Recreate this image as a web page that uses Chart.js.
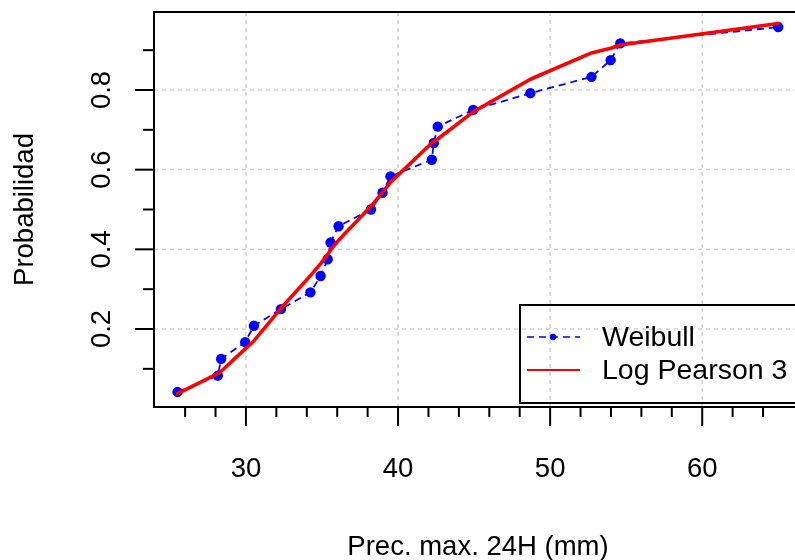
<!DOCTYPE html>
<html><head><meta charset="utf-8">
<script src="https://cdn.jsdelivr.net/npm/chart.js@4.4.0/dist/chart.umd.min.js"></script>
<style>html,body{margin:0;padding:0;background:#fff;overflow:hidden}canvas{display:block}</style>
</head><body>
<canvas id="c" width="795" height="560"></canvas>
<script>
// ---- data ----
const precip = [25.50, 28.15, 28.37, 29.95, 30.52, 32.30, 34.24, 34.91, 35.37, 35.56, 36.09, 38.22, 38.98, 39.50, 42.22, 42.35, 42.61, 44.94, 48.70, 52.72, 53.98, 54.61, 65.00];
const weibullProb = [0.042, 0.083, 0.125, 0.167, 0.208, 0.250, 0.292, 0.333, 0.375, 0.417, 0.458, 0.500, 0.542, 0.583, 0.625, 0.667, 0.708, 0.750, 0.792, 0.833, 0.875, 0.917, 0.958];
const lp3Prob = [0.038, 0.088, 0.094, 0.150, 0.170, 0.252, 0.334, 0.364, 0.387, 0.398, 0.423, 0.508, 0.543, 0.568, 0.667, 0.671, 0.677, 0.745, 0.827, 0.893, 0.905, 0.913, 0.967];
const xMajorTicks = [30, 40, 50, 60];
const xMajorLabels = ['30', '40', '50', '60'];
const xMinorTicks = [26, 28, 32, 34, 36, 38, 42, 44, 46, 48, 52, 54, 56, 58, 62, 64];
const yMajorTicks = [0.2, 0.4, 0.6, 0.8];
const yMajorLabels = ['0.2', '0.4', '0.6', '0.8'];
const yMinorTicks = [0.1, 0.3, 0.5, 0.7, 0.9];
const xTitle = 'Prec. max. 24H (mm)';
const yTitle = 'Probabilidad';
const seriesNames = ['Weibull', 'Log Pearson 3'];

const FONT = '27.5px "Liberation Sans", Arial, sans-serif';
const LEGEND_FONT = '28.5px "Liberation Sans", Arial, sans-serif';

const rStyle = {
  id: 'rStyle',
  beforeDatasetsDraw(chart) {
    const {ctx, chartArea: a, scales: {x, y}} = chart;
    const right = a.right + 13;
    ctx.save();
    ctx.strokeStyle = '#d0d0d0';
    ctx.lineWidth = 1.5;
    ctx.setLineDash([4, 4]);
    xMajorTicks.forEach(v => {
      const p = x.getPixelForValue(v);
      ctx.beginPath(); ctx.moveTo(p, a.top); ctx.lineTo(p, a.bottom); ctx.stroke();
    });
    yMajorTicks.forEach(v => {
      const p = y.getPixelForValue(v);
      ctx.beginPath(); ctx.moveTo(a.left, p); ctx.lineTo(right, p); ctx.stroke();
    });
    ctx.restore();
  },
  afterDraw(chart) {
    const {ctx, chartArea: a, scales: {x, y}} = chart;
    const right = a.right + 13;
    ctx.save();
    ctx.strokeStyle = '#000';
    ctx.lineWidth = 2;
    ctx.setLineDash([]);
    // frame
    ctx.strokeRect(a.left, a.top, right - a.left, a.bottom - a.top);
    // x ticks
    xMajorTicks.forEach(v => {
      const p = x.getPixelForValue(v);
      ctx.beginPath(); ctx.moveTo(p, a.bottom); ctx.lineTo(p, a.bottom + 19); ctx.stroke();
    });
    xMinorTicks.forEach(v => {
      const p = x.getPixelForValue(v);
      ctx.beginPath(); ctx.moveTo(p, a.bottom); ctx.lineTo(p, a.bottom + 10); ctx.stroke();
    });
    // y ticks
    yMajorTicks.forEach(v => {
      const p = y.getPixelForValue(v);
      ctx.beginPath(); ctx.moveTo(a.left, p); ctx.lineTo(a.left - 19, p); ctx.stroke();
    });
    yMinorTicks.forEach(v => {
      const p = y.getPixelForValue(v);
      ctx.beginPath(); ctx.moveTo(a.left, p); ctx.lineTo(a.left - 11, p); ctx.stroke();
    });
    // labels
    ctx.fillStyle = '#000';
    ctx.font = FONT;
    ctx.textAlign = 'center';
    ctx.textBaseline = 'alphabetic';
    xMajorTicks.forEach((v, i) => {
      ctx.fillText(xMajorLabels[i], x.getPixelForValue(v), 477);
    });
    ctx.fillText(xTitle, 478, 555);
    yMajorTicks.forEach((v, i) => {
      ctx.save();
      ctx.translate(110, y.getPixelForValue(v));
      ctx.rotate(-Math.PI / 2);
      ctx.fillText(yMajorLabels[i], 0, 0);
      ctx.restore();
    });
    ctx.save();
    ctx.translate(33, (a.top + a.bottom) / 2);
    ctx.rotate(-Math.PI / 2);
    ctx.fillText(yTitle, 0, 0);
    ctx.restore();
    // legend
    const lx = 520, ly = 305, lb = 403;
    ctx.lineWidth = 2;
    ctx.strokeRect(lx, ly, right - lx, lb - ly);
    const y1 = 337, y2 = 370;
    ctx.strokeStyle = '#0000ff';
    ctx.lineWidth = 1.6;
    ctx.setLineDash([7, 5]);
    ctx.beginPath(); ctx.moveTo(527, y1); ctx.lineTo(580, y1); ctx.stroke();
    ctx.setLineDash([]);
    ctx.fillStyle = '#0000ff';
    ctx.beginPath(); ctx.arc(553, y1, 3.2, 0, Math.PI * 2); ctx.fill();
    ctx.strokeStyle = '#ff0000';
    ctx.lineWidth = 2;
    ctx.beginPath(); ctx.moveTo(527, y2); ctx.lineTo(580, y2); ctx.stroke();
    ctx.fillStyle = '#000';
    ctx.font = LEGEND_FONT;
    ctx.textAlign = 'left';
    ctx.textBaseline = 'middle';
    ctx.fillText(seriesNames[0], 602, y1 + 1);
    ctx.fillText(seriesNames[1], 602, y2 + 1);
    ctx.restore();
  }
};

new Chart(document.getElementById('c'), {
  type: 'scatter',
  data: {
    datasets: [
      {
        label: seriesNames[0],
        data: precip.map((v, i) => ({x: v, y: weibullProb[i]})),
        showLine: true,
        borderColor: '#0000ff',
        backgroundColor: '#0000ff',
        borderWidth: 1.8,
        borderDash: [7, 5],
        pointRadius: 5.2,
        pointBorderWidth: 0,
        pointHoverRadius: 5.2,
        order: 1
      },
      {
        label: seriesNames[1],
        data: precip.map((v, i) => ({x: v, y: lp3Prob[i]})),
        showLine: true,
        borderColor: '#ff0000',
        backgroundColor: '#ff0000',
        borderWidth: 3.6,
        pointRadius: 0,
        pointHoverRadius: 0,
        borderJoinStyle: 'round',
        borderCapStyle: 'round',
        order: 0
      }
    ]
  },
  options: {
    responsive: false,
    animation: false,
    devicePixelRatio: 1,
    layout: {padding: {left: 154, top: 12, right: 0, bottom: 153}},
    scales: {
      x: {type: 'linear', min: 23.954, max: 65.759, display: false},
      y: {type: 'linear', min: 0.0042, max: 0.9958, display: false}
    },
    plugins: {legend: {display: false}, tooltip: {enabled: false}},
    events: []
  },
  plugins: [rStyle]
});
</script>
</body></html>
